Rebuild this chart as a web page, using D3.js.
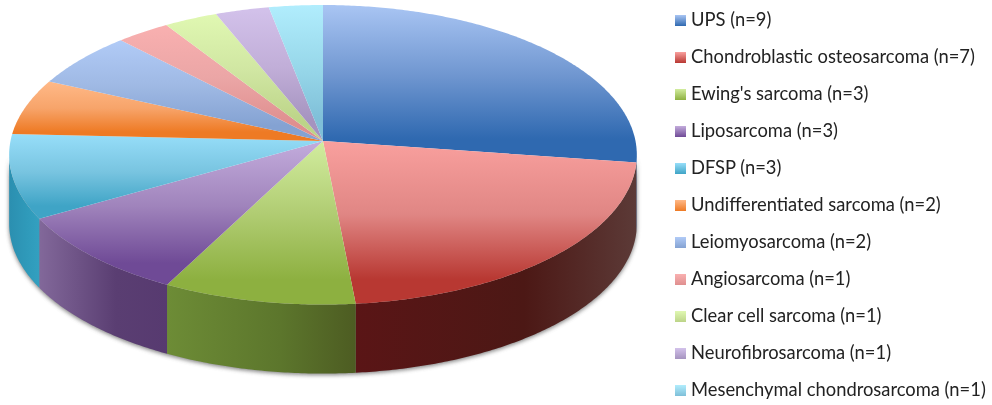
<!DOCTYPE html>
<html><head><meta charset="utf-8">
<script src="https://cdn.jsdelivr.net/npm/d3@7"></script>
<style>html,body{margin:0;padding:0;background:#fff}svg{display:block}text{font-family:Lato,"Open Sans",sans-serif;fill:#222}</style>
</head><body><svg id="c" width="992" height="405"></svg>
<script>
const categories = ["UPS","Chondroblastic osteosarcoma","Ewing's sarcoma","Liposarcoma","DFSP","Undifferentiated sarcoma","Leiomyosarcoma","Angiosarcoma","Clear cell sarcoma","Neurofibrosarcoma","Mesenchymal chondrosarcoma"];
const counts = [9,7,3,3,3,2,2,1,1,1,1];
const topLight = ["#a9c5f3","#f9a09e","#d2ed9f","#c3acdc","#97def9","#ffb988","#b1cbf7","#f9b0b0","#e0f8b2","#d3c2eb","#b1edfd"];
const topMid   = ["#6f96d0","#e08684","#b0cc72","#a084bc","#78c4e0","#f7a46a","#9fb9e4","#eba6a6","#d0e6a2","#c1aed8","#98d8ea"];
const topDark  = ["#2f69b0","#b83832","#8db040","#6f4a96","#3fa4c6","#ee7a24","#84a2d2","#df8f8f","#bcd488","#a593bf","#7fbfd8"];
const wallLeft = ["#2f69b0","#5a1516","#6d8c36","#82689a","#2b8fb0","#ee7a24","#84a2d2","#df8f8f","#bcd488","#a593bf","#7fbfd8"];
const wallMid  = ["#2f69b0","#4c1815","#5c762c","#5a3e72","#2f9aba","#ee7a24","#84a2d2","#df8f8f","#bcd488","#a593bf","#7fbfd8"];
const wallRight= ["#2f69b0","#5c3a37","#4d5c22","#573a70","#33a0c0","#ee7a24","#84a2d2","#df8f8f","#bcd488","#a593bf","#7fbfd8"];

const W=992,H=405;
const svg=d3.select("#c");
const defs=svg.append("defs");
// projection of the tilted disc
const cx=323,cy=141,A=312.5,B=148.5,P=0.092,depth=69;
const project=(t,dz=0)=>{const u=Math.sin(t),v=Math.cos(t),w=1+P*v;return [cx+A*u/w,cy-B*v/w+dz];};
const pie=d3.pie().sort(null).value(d=>d)(counts);
const arcPts=(a,b,dz=0)=>{const n=Math.max(2,Math.ceil((b-a)/0.01));return d3.range(n+1).map(i=>project(a+(b-a)*i/n,dz));};
const line=d3.line();
const tMin=Math.PI/2+Math.asin(P),tMax=3*Math.PI/2-Math.asin(P);

defs.append("filter").attr("id","blur").attr("x","-5%").attr("y","-5%").attr("width","110%").attr("height","110%")
  .append("feGaussianBlur").attr("stdDeviation",2);
defs.append("filter").attr("id","soft").attr("x","-2%").attr("y","-10%").attr("width","104%").attr("height","120%")
  .append("feGaussianBlur").attr("stdDeviation",0.35);
// shadow under the wall
svg.append("path").attr("d",line(arcPts(tMin,tMax,depth+1.5).concat(arcPts(tMin,tMax,0).reverse()))+"Z")
  .attr("fill","#555").attr("opacity",0.75).attr("filter","url(#blur)");

// gradients
pie.forEach((s,i)=>{
  const g=defs.append("linearGradient").attr("id","t"+i).attr("x1",0).attr("y1",0).attr("x2",0).attr("y2",1);
  g.append("stop").attr("offset",0).attr("stop-color",topLight[i]);
  g.append("stop").attr("offset",0.45).attr("stop-color",topMid[i]);
  g.append("stop").attr("offset",0.85).attr("stop-color",topDark[i]);
  g.append("stop").attr("offset",1).attr("stop-color",topDark[i]);
  const h=defs.append("linearGradient").attr("id","w"+i).attr("x1",0).attr("y1",0).attr("x2",1).attr("y2",0);
  h.append("stop").attr("offset",0).attr("stop-color",wallLeft[i]);
  h.append("stop").attr("offset",0.6).attr("stop-color",wallMid[i]);
  h.append("stop").attr("offset",1).attr("stop-color",wallRight[i]);
});
// walls
svg.append("g").selectAll("path").data(pie.filter(s=>s.endAngle>tMin&&s.startAngle<tMax)).join("path")
  .attr("d",s=>{const a=Math.max(s.startAngle,tMin),b=Math.min(s.endAngle,tMax);
    return line(arcPts(a,b,0).concat(arcPts(a,b,depth).reverse()))+"Z";})
  .attr("fill",s=>`url(#w${s.index})`);
// top face
svg.append("g").selectAll("path").data(pie).join("path")
  .attr("d",s=>line([[cx,cy]].concat(arcPts(s.startAngle,s.endAngle)))+"Z")
  .attr("fill",s=>`url(#t${s.index})`);

// legend
const rowY=d3.scalePoint().domain(categories).range([20,390]);
const lg=svg.append("g").selectAll("g").data(categories).join("g")
  .attr("transform",d=>`translate(675,${rowY(d)})`);
lg.each(function(d,i){
  const g=defs.append("linearGradient").attr("id","l"+i).attr("x1",0).attr("y1",0).attr("x2",0).attr("y2",1);
  g.append("stop").attr("offset",0).attr("stop-color",topLight[i]);
  g.append("stop").attr("offset",1).attr("stop-color",topDark[i]);
});
lg.append("rect").attr("x",0).attr("y",-5).attr("width",11).attr("height",11).attr("fill",(d,i)=>`url(#l${i})`);
lg.append("text").attr("x",16).attr("y",6).attr("font-size",18.35).attr("filter","url(#soft)").text((d,i)=>`${d} (n=${counts[i]})`);
</script></body></html>
